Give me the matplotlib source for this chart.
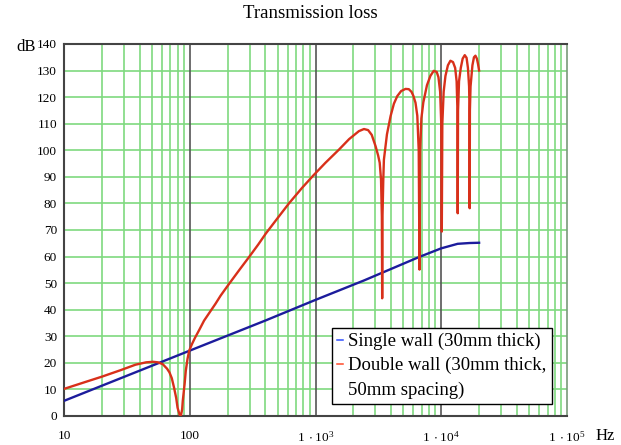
import numpy as np
import matplotlib.pyplot as plt
from matplotlib.lines import Line2D
from matplotlib.ticker import FixedLocator, NullFormatter

plt.rcParams['font.family'] = ['Liberation Serif', 'DejaVu Serif']
plt.rcParams['mathtext.fontset'] = 'custom'
plt.rcParams['mathtext.rm'] = 'Liberation Serif'

# values
freq_single = [10, 100, 403, 1000, 2427, 6717, 10000, 13500, 16800, 20000]
tl_single = [5.7, 24.6, 36.0, 43.7, 51.0, 59.9, 63.1, 64.8, 65.1, 65.2]

freq_double = [10, 15, 20, 28, 37, 45, 51, 56, 61, 66, 69, 72, 75, 78, 80, 83,
               85, 87, 88, 91, 93, 96, 99, 104, 110, 119, 130, 143, 160, 176,
               190, 206, 250, 297, 350, 403, 500, 617, 780, 973, 1200, 1540,
               1850, 2213, 2430, 2620, 2800, 3006, 3150, 3240, 3320, 3370,
               3390, 3410, 3460, 3500, 3700, 3956, 4200, 4470, 4800, 5200,
               5520, 5800, 6000, 6240, 6450, 6620, 6717, 6800, 6950, 7200,
               7700, 8200, 8710, 9200, 9500, 9800, 10000, 10100, 10200, 10450,
               10800, 11300, 11830, 12400, 12900, 13250, 13450, 13520, 13600,
               13850, 14300, 14800, 15380, 15900, 16300, 16650, 16780, 16830,
               16900, 17100, 17700, 18200, 18700, 19200, 19600, 20000]
tl_double = [10.2, 12.9, 14.8, 17.2, 19.3, 20.2, 20.4, 20.2, 19.5, 17.8, 16.4,
             14.2, 10.7, 6.8, 3.1, 0.5, 0.0, 2.5, 5.7, 12.0, 17.0, 21.5, 24.6,
             27.0, 29.4, 32.4, 35.9, 38.8, 42.2, 45.3, 47.5, 49.8, 55.2, 59.9,
             64.5, 68.7, 74.5, 80.1, 85.8, 90.8, 95.3, 100.3, 104.2, 107.2,
             108.0, 107.6, 105.8, 101.5, 98.0, 95.3, 89.0, 75.0, 44.3, 75.0,
             89.0, 96.5, 106.0, 112.9, 117.5, 120.4, 122.3, 123.1, 123.0,
             122.0, 120.5, 117.9, 113.0, 100.0, 55.1, 100.0, 112.0, 118.0,
             124.5, 128.0, 129.9, 129.5, 127.5, 122.0, 110.0, 69.4, 110.0,
             122.0, 128.0, 132.0, 133.7, 133.2, 131.0, 126.0, 115.0, 76.3,
             115.0, 126.0, 131.0, 134.5, 135.8, 134.8, 131.0, 124.0, 115.0,
             78.2, 115.0, 124.0, 132.0, 135.0, 135.6, 134.5, 132.5, 130.0]

x_labels = ['10', '100', r'$\mathregular{1\,\cdot 10^{3}}$',
            r'$\mathregular{1\,\cdot 10^{4}}$', r'$\mathregular{1\,\cdot 10^{5}}$']
legend_lines = ['Single wall (30mm thick)', 'Double wall (30mm thick,', '50mm spacing)']

fig = plt.figure(figsize=(6.21, 4.45), dpi=100)
ax = fig.add_axes([64 / 621, 29 / 445, 503 / 621, 372 / 445])

ax.set_xscale('log')
ax.set_xlim(10, 1e5)
ax.set_ylim(0, 140)

# grid: green lines for every minor/major step, dark lines at decades
minor = [m * 10 ** e for e in range(1, 5) for m in range(2, 10)]
for f in minor:
    ax.axvline(f, color='#7fd97f', lw=1.2, zorder=1)
for y in range(10, 140, 10):
    ax.axhline(y, color='#7fd97f', lw=1.2, zorder=1)
for f in [100, 1000, 10000]:
    ax.axvline(f, color='#555555', lw=1.2, zorder=1)

ax.plot(freq_single, tl_single, color='#1c1c9c', lw=1.7, zorder=3)
ax.plot(freq_double, tl_double, color='#d8301a', lw=1.7, zorder=3)

ax.xaxis.set_major_locator(FixedLocator([10, 100, 1000, 10000, 100000]))
ax.xaxis.set_minor_formatter(NullFormatter())
ax.set_xticklabels(x_labels)
ax.set_yticks(range(0, 141, 10))
ax.tick_params(which='both', length=0, labelsize=9.5)
ax.tick_params(axis='x', pad=10)
ax.tick_params(axis='y', pad=5)

for side in ['left', 'bottom', 'top']:
    ax.spines[side].set_color('#444444')
    ax.spines[side].set_linewidth(1.5)
ax.spines['right'].set_color('#7a9a7a')
ax.spines['right'].set_linewidth(1.2)

# legend: the second label wraps onto a third row without its own marker
handles = [Line2D([], [], color='#3050ff', lw=1.1),
           Line2D([], [], color='#ff4a2a', lw=1.1),
           Line2D([], [], color='none')]
leg = ax.legend(handles, legend_lines, loc='upper right',
                bbox_to_anchor=(0.970, 0.237), borderaxespad=0,
                fontsize=13.5, handlelength=0.3, handletextpad=0.3,
                labelspacing=0.36, fancybox=False, framealpha=1,
                edgecolor='black', borderpad=0.28)
leg.get_frame().set_linewidth(1.0)
leg.set_zorder(5)

fig.text(310 / 621, 1 - 14 / 445, 'Transmission loss', ha='center', va='center', fontsize=13.5)
fig.text(26 / 621, 1 - 47 / 445, 'dB', ha='center', va='center', fontsize=12)
fig.text(605 / 621, 1 - 436 / 445, 'Hz', ha='center', va='center', fontsize=12)

fig.savefig('out.png', dpi=100)
